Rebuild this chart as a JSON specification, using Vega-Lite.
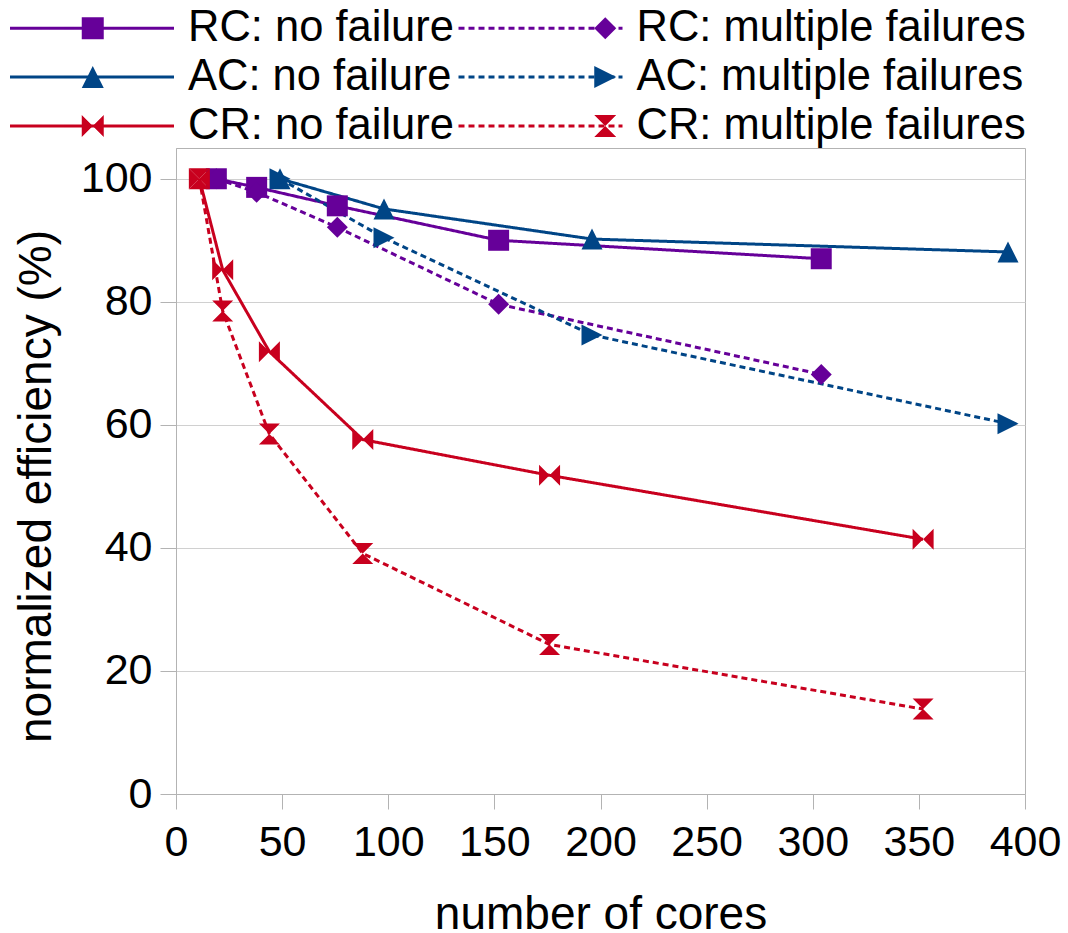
{
  "$schema": "https://vega.github.io/schema/vega-lite/v6.json",
  "width": 849,
  "height": 646,
  "autosize": {"type": "none"},
  "padding": {"left": 176, "top": 148, "right": 43, "bottom": 139},
  "background": "white",
  "config": {
    "font": "Liberation Sans",
    "view": {"stroke": "#b3b3b3", "strokeWidth": 1},
    "axis": {
      "domainColor": "#b3b3b3",
      "tickColor": "#b3b3b3",
      "gridColor": "#d0d0d0",
      "labelColor": "#000000",
      "titleColor": "#000000",
      "labelFont": "Liberation Sans",
      "titleFont": "Liberation Sans",
      "labelFontSize": 43,
      "titleFontSize": 46,
      "titleFontWeight": "normal"
    },
    "legend": {"labelFont": "Liberation Sans", "labelColor": "#000000"}
  },
  "data": {
    "values": [
      {"series": "RC: no failure", "cores": 19, "efficiency": 100},
      {"series": "RC: no failure", "cores": 38, "efficiency": 98.6},
      {"series": "RC: no failure", "cores": 76, "efficiency": 95.6},
      {"series": "RC: no failure", "cores": 152, "efficiency": 90},
      {"series": "RC: no failure", "cores": 304, "efficiency": 87},
      {"series": "RC: multiple failures", "cores": 19, "efficiency": 100},
      {"series": "RC: multiple failures", "cores": 38, "efficiency": 97.8},
      {"series": "RC: multiple failures", "cores": 76, "efficiency": 92.1},
      {"series": "RC: multiple failures", "cores": 152, "efficiency": 79.6},
      {"series": "RC: multiple failures", "cores": 304, "efficiency": 68.2},
      {"series": "AC: no failure", "cores": 49, "efficiency": 100},
      {"series": "AC: no failure", "cores": 98, "efficiency": 95.1},
      {"series": "AC: no failure", "cores": 196, "efficiency": 90.2},
      {"series": "AC: no failure", "cores": 392, "efficiency": 88.1},
      {"series": "AC: multiple failures", "cores": 49, "efficiency": 100},
      {"series": "AC: multiple failures", "cores": 98, "efficiency": 90.4},
      {"series": "AC: multiple failures", "cores": 196, "efficiency": 74.6},
      {"series": "AC: multiple failures", "cores": 392, "efficiency": 60.2},
      {"series": "CR: no failure", "cores": 11, "efficiency": 100},
      {"series": "CR: no failure", "cores": 22, "efficiency": 85.2},
      {"series": "CR: no failure", "cores": 44, "efficiency": 71.9},
      {"series": "CR: no failure", "cores": 88, "efficiency": 57.6},
      {"series": "CR: no failure", "cores": 176, "efficiency": 51.8},
      {"series": "CR: no failure", "cores": 352, "efficiency": 41.4},
      {"series": "CR: multiple failures", "cores": 11, "efficiency": 100},
      {"series": "CR: multiple failures", "cores": 22, "efficiency": 78.5},
      {"series": "CR: multiple failures", "cores": 44, "efficiency": 58.5},
      {"series": "CR: multiple failures", "cores": 88, "efficiency": 39.1},
      {"series": "CR: multiple failures", "cores": 176, "efficiency": 24.3},
      {"series": "CR: multiple failures", "cores": 352, "efficiency": 13.8}
    ]
  },
  "resolve": {
    "scale": {"color": "independent", "shape": "independent", "strokeDash": "independent"},
    "legend": {"color": "independent", "shape": "independent", "strokeDash": "independent"}
  },
  "encoding": {
    "x": {
      "field": "cores",
      "type": "quantitative",
      "scale": {"domain": [0, 400], "nice": false},
      "axis": {
        "values": [0, 50, 100, 150, 200, 250, 300, 350, 400],
        "grid": false,
        "tickSize": 15,
        "labelPadding": 12,
        "labelOverlap": false,
        "labelFlush": false,
        "title": "number of cores",
        "titlePadding": 28
      }
    },
    "y": {
      "field": "efficiency",
      "type": "quantitative",
      "scale": {"domain": [0, 105], "nice": false},
      "axis": {
        "values": [0, 20, 40, 60, 80, 100],
        "grid": true,
        "tickSize": 16,
        "labelPadding": 8,
        "labelOverlap": false,
        "labelFlush": false,
        "title": "normalized efficiency (%)",
        "titlePadding": 20,
        "titleY": 338
      }
    }
  },
  "layer": [
    {
      "mark": {"type": "line", "strokeWidth": 3},
      "encoding": {
        "color": {
          "field": "series",
          "type": "nominal",
          "scale": {
            "domain": ["RC: no failure", "RC: multiple failures", "AC: no failure", "AC: multiple failures", "CR: no failure", "CR: multiple failures"],
            "range": ["#660099", "#660099", "#004586", "#004586", "#c8001e", "#c8001e"]
          },
          "legend": {
            "orient": "none",
            "direction": "horizontal",
            "legendX": -167.5,
            "legendY": -141,
            "columns": 2,
            "title": null,
            "symbolType": "stroke",
            "symbolSize": 26896,
            "symbolStrokeWidth": 3,
            "clipHeight": 42,
            "labelFontSize": 43.5,
            "labelOffset": 12.5,
            "labelLimit": 0,
            "columnPadding": 2.5,
            "rowPadding": 5,
            "padding": 0
          }
        },
        "strokeDash": {
          "field": "series",
          "type": "nominal",
          "scale": {
            "domain": ["RC: no failure", "RC: multiple failures", "AC: no failure", "AC: multiple failures", "CR: no failure", "CR: multiple failures"],
            "range": [[1, 0], [6, 4], [1, 0], [6, 4], [1, 0], [6, 4]]
          }
        }
      }
    },
    {
      "mark": {"type": "point", "filled": true, "opacity": 1, "size": 441},
      "encoding": {
        "color": {
          "field": "series",
          "type": "nominal",
          "scale": {
            "domain": ["RC: no failure", "RC: multiple failures", "AC: no failure", "AC: multiple failures", "CR: no failure", "CR: multiple failures"],
            "range": ["#660099", "#660099", "#004586", "#004586", "#c8001e", "#c8001e"]
          },
          "legend": {
            "orient": "none",
            "direction": "horizontal",
            "legendX": -167.5,
            "legendY": -141,
            "columns": 2,
            "title": null,
            "symbolSize": 484,
            "symbolStrokeWidth": 0,
            "symbolOffset": 62.5,
            "clipHeight": 42,
            "labelFontSize": 43.5,
            "labelOffset": 137.5,
            "labelOpacity": 0,
            "labelLimit": 0,
            "columnPadding": 2.5,
            "rowPadding": 5,
            "padding": 0
          }
        },
        "shape": {
          "field": "series",
          "type": "nominal",
          "scale": {
            "domain": ["RC: no failure", "RC: multiple failures", "AC: no failure", "AC: multiple failures", "CR: no failure", "CR: multiple failures"],
            "range": ["square", "diamond", "M0,-1L1,1L-1,1Z", "M-1,-1L1,0L-1,1Z", "M-1,-1L0,0L-1,1Z M1,-1L0,0L1,1Z", "M-1,-1L1,-1L0,0Z M-1,1L1,1L0,0Z"]
          }
        }
      }
    }
  ]
}
